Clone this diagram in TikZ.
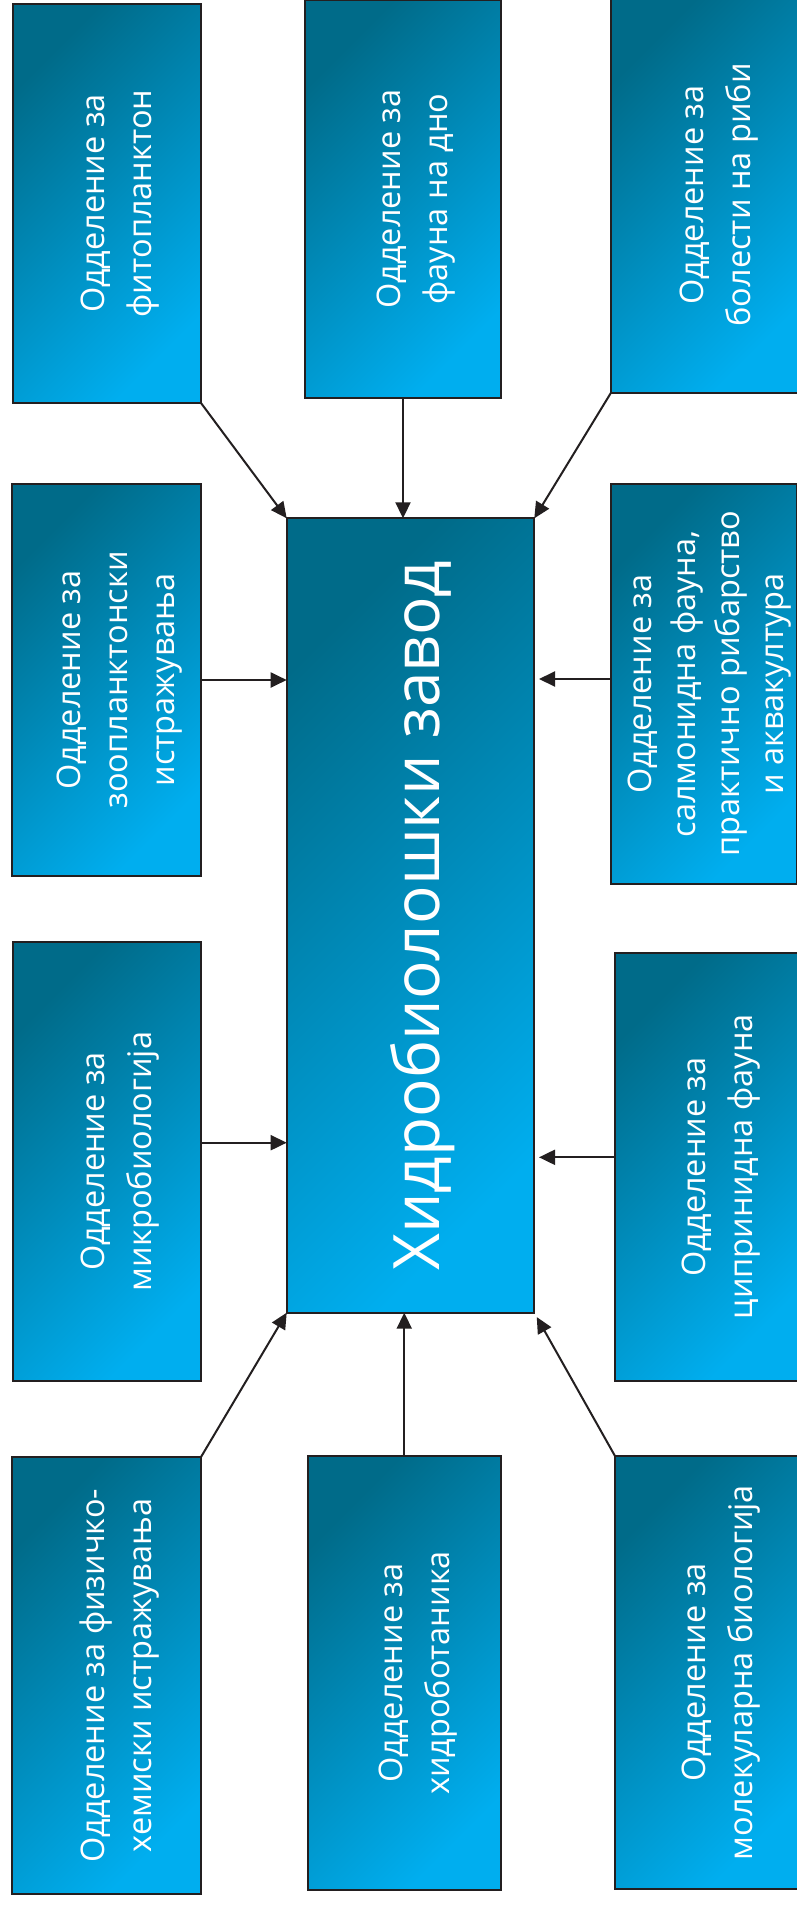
\documentclass[tikz,border=0pt]{standalone}
\usepackage{fontspec}
\setmainfont{Open Sans}
\usepackage{graphicx}
\usetikzlibrary{arrows.meta}
\definecolor{deptdark}{HTML}{006B89}
\definecolor{deptlight}{HTML}{00AEEF}
\definecolor{edgecol}{HTML}{231F20}
\newcommand{\vlab}[2][24pt]{\makebox[0pt][c]{\hspace*{#1}\rotatebox{90}{\begin{tabular}{@{}c@{}}#2\end{tabular}}}}
\begin{document}
\begin{tikzpicture}[x=1pt,y=-1pt,
  dept/.style={draw=edgecol, line width=2pt, inner sep=0pt, outer sep=0pt,
    top color=deptdark, bottom color=deptlight, shading angle=45,
    text=white, font=\fontsize{32.5}{47}\selectfont},
  conn/.style={draw=edgecol, line width=2pt, -{Triangle[length=16pt,width=15pt]}}]
\useasboundingbox (0,0) rectangle (797,1905);
\fill[white] (0,0) rectangle (797,1905);
\clip (0,0) rectangle (797,1905);

% central
\node[dept, minimum width=247.6pt, minimum height=794.4pt, font=\fontsize{64}{80}\selectfont] (C) at (410.5,915.5) {\hspace*{24pt}\rotatebox{90}{Хидробиолошки завод}};

% top row
\node[dept, minimum width=188pt, minimum height=399pt] (B1) at (107,203.5) {\vlab{Одделение за\\фитопланктон}};
\node[dept, minimum width=196pt, minimum height=398pt] (B2) at (403,199) {\vlab{Одделение за\\фауна на дно}};
\node[dept, minimum width=189pt, minimum height=395.7pt] (B3) at (705.5,194.85) {\vlab{Одделение за\\болести на риби}};

% second row
\node[dept, minimum width=189pt, minimum height=392pt] (B4) at (106.5,680) {\vlab{Одделение за\\зоопланктонски\\истражувања}};
\node[dept, minimum width=185.5pt, minimum height=400pt, font=\fontsize{32.5}{44}\selectfont] (B5) at (703.75,684) {\vlab[10pt]{Одделение за\\салмонидна фауна,\\практично рибарство\\и аквакултура}};

% third row
\node[dept, minimum width=188pt, minimum height=439pt] (B6) at (107,1161.5) {\vlab{Одделение за\\микробиологија}};
\node[dept, minimum width=185pt, minimum height=428pt] (B7) at (707.5,1166.7) {\vlab{Одделение за\\ципринидна фауна}};

% bottom row
\node[dept, minimum width=189pt, minimum height=437pt] (B8) at (106.5,1675.5) {\vlab{Одделение за физичко-\\хемиски истражувања}};
\node[dept, minimum width=193.5pt, minimum height=434pt] (B9) at (404.25,1673) {\vlab{Одделение за\\хидроботаника}};
\node[dept, minimum width=185pt, minimum height=433pt] (B10) at (707.5,1672.5) {\vlab{Одделение за\\молекуларна биологија}};

% connectors
\draw[conn] (B1.south east) -- (C.north west);
\draw[conn] (B2.south) -- (B2.south |- C.north);
\draw[conn] (B3.south west) -- (C.north east);
\draw[conn] (B4.east) -- (B4.east -| C.west);
\draw[conn, shorten >=4.7pt] ([yshift=5pt]B5.west) -- ([yshift=5pt]B5.west -| C.east);
\draw[conn] ([yshift=18.8pt]B6.east) -- ([yshift=18.8pt]B6.east -| C.west);
\draw[conn, shorten >=4.7pt] ([yshift=9.4pt]B7.west) -- ([yshift=9.4pt]B7.west -| C.east);
\draw[conn] (B8.north east) -- (C.south west);
\draw[conn] (B9.north) -- (B9.north |- C.south);
\draw[conn, shorten >=5pt] (B10.north west) -- (C.south east);
\end{tikzpicture}
\end{document}
